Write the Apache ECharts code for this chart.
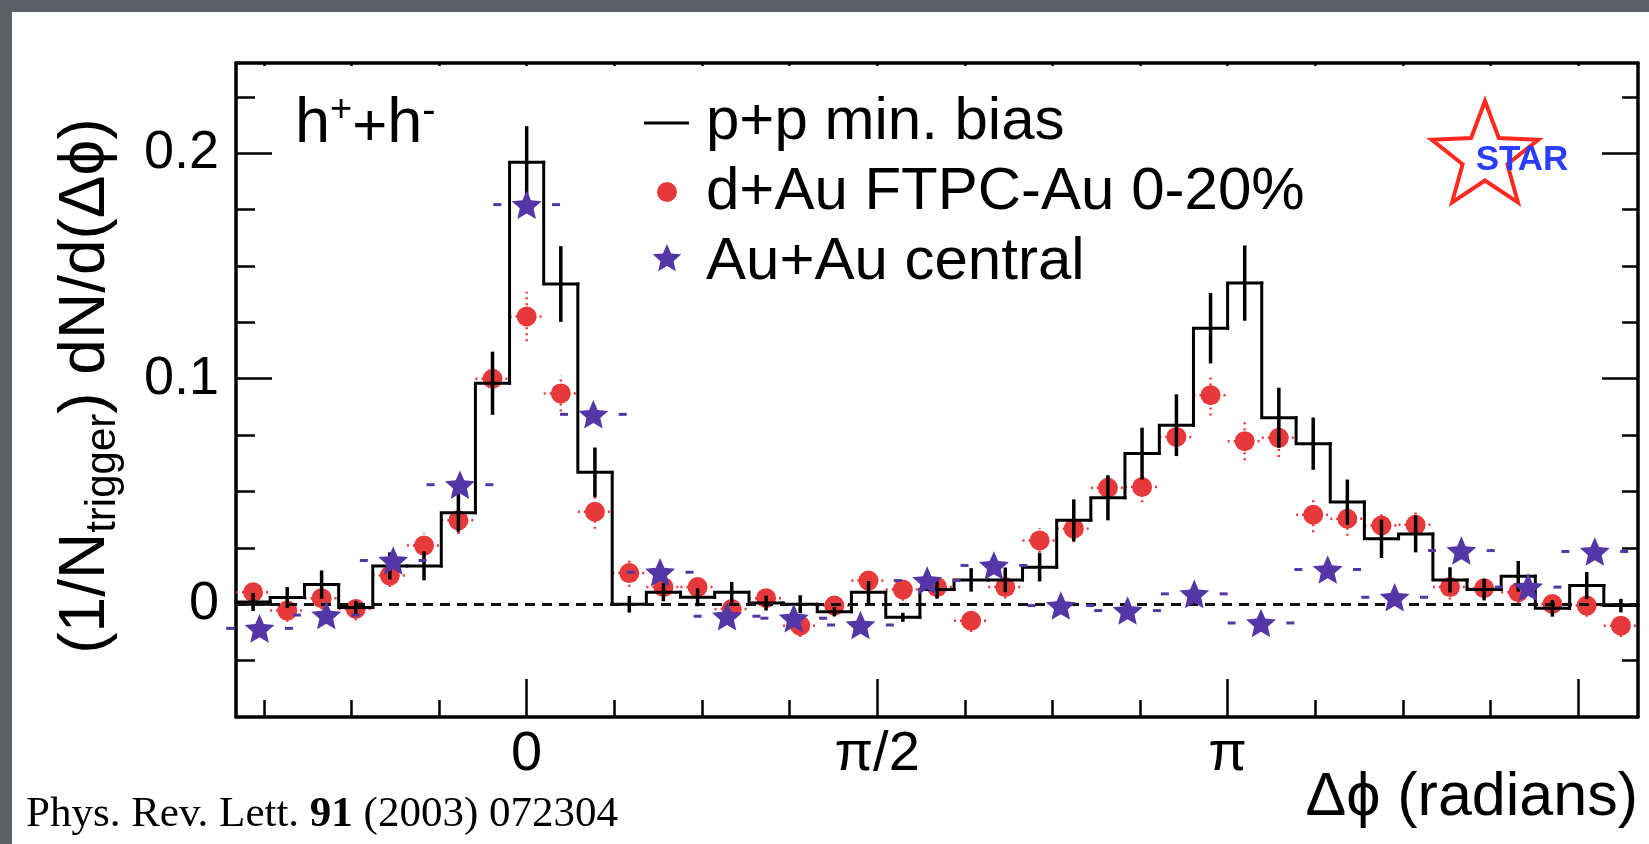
<!DOCTYPE html>
<html>
<head>
<meta charset="utf-8">
<title>Di-hadron azimuthal correlations</title>
<script src="https://cdn.jsdelivr.net/npm/echarts@6.0.0/dist/echarts.min.js"></script>
<style>
  html, body { margin: 0; padding: 0; }
  body { width: 1649px; height: 844px; background: #5c5f65; position: relative; overflow: hidden; }
  #panel { position: absolute; left: 12px; top: 12px; width: 1637px; height: 832px; background: #ffffff; }
  #chart { position: absolute; left: 0; top: 0; width: 1649px; height: 844px; }
</style>
</head>
<body>
<div id="panel"></div>
<div id="chart"></div>
<script>
// Δφ bin centres (rad) shared by the p+p histogram and the d+Au points (41 bins over 2π)
const dPhiBins = [
  -1.226, -1.073, -0.919, -0.766, -0.613, -0.460, -0.306, -0.153,
   0.000,  0.153,  0.306,  0.460,  0.613,  0.766,  0.919,  1.073,
   1.226,  1.379,  1.532,  1.686,  1.839,  1.992,  2.145,  2.299,
   2.452,  2.605,  2.758,  2.912,  3.065,  3.218,  3.371,  3.525,
   3.678,  3.831,  3.984,  4.138,  4.291,  4.444,  4.597,  4.751,  4.904
];
const ppBinWidth = 0.15325;

// p+p minimum bias (histogram) and its statistical errors
const ppMinBias = [
   0.0010,  0.0030,  0.0087, -0.0015,  0.0170,  0.0170,  0.0406,  0.0980,
   0.1960,  0.1420,  0.0585,  0.0000,  0.0053,  0.0031,  0.0053,  0.0005,
   0.0000, -0.0033,  0.0053, -0.0058,  0.0065,  0.0108,  0.0108,  0.0164,
   0.0372,  0.0472,  0.0668,  0.0794,  0.1224,  0.1424,  0.0827,  0.0712,
   0.0453,  0.0290,  0.0312,  0.0108,  0.0065,  0.0124, -0.0018,  0.0083, -0.0006
];
const ppErr = [
  0.0040, 0.0046, 0.0063, 0.0030, 0.0060, 0.0064, 0.0085, 0.0140,
  0.0160, 0.0168, 0.0110, 0.0037, 0.0040, 0.0040, 0.0046, 0.0033,
  0.0040, 0.0020, 0.0050, 0.0020, 0.0040, 0.0052, 0.0055, 0.0063,
  0.0093, 0.0100, 0.0115, 0.0137, 0.0156, 0.0167, 0.0133, 0.0116,
  0.0100, 0.0085, 0.0082, 0.0056, 0.0048, 0.0068, 0.0037, 0.0060, 0.0030
];

// d+Au FTPC-Au 0-20% and its errors
const dAuCentral = [
   0.0053, -0.0028,  0.0027, -0.0021,  0.0127,  0.0260,  0.0372,  0.1000,
   0.1276,  0.0935,  0.0410,  0.0138,  0.0076,  0.0076, -0.0021,  0.0027,
  -0.0095, -0.0006,  0.0105,  0.0065,  0.0076, -0.0073,  0.0076,  0.0283,
   0.0335,  0.0516,  0.0520,  0.0742,  0.0927,  0.0723,  0.0738,  0.0397,
   0.0379,  0.0349,  0.0352,  0.0076,  0.0071,  0.0053,  0.0001, -0.0006, -0.0095
];
const dAuErr = [
  0.0050, 0.0050, 0.0050, 0.0050, 0.0050, 0.0055, 0.0060, 0.0070,
  0.0110, 0.0080, 0.0075, 0.0060, 0.0050, 0.0050, 0.0050, 0.0050,
  0.0050, 0.0050, 0.0050, 0.0050, 0.0050, 0.0050, 0.0050, 0.0055,
  0.0060, 0.0065, 0.0068, 0.0075, 0.0090, 0.0085, 0.0085, 0.0078,
  0.0075, 0.0065, 0.0060, 0.0055, 0.0050, 0.0050, 0.0050, 0.0050, 0.0050
];

// Au+Au central (21 bins over 2π)
const auBins = [
  -1.197, -0.898, -0.598, -0.299, 0.000, 0.299, 0.598, 0.898, 1.197, 1.496, 1.795,
   2.094,  2.394,  2.693,  2.992, 3.291, 3.590, 3.890, 4.189, 4.488, 4.787
];
const auBinWidth = 0.2992;
const auAuCentral = [
  -0.0107, -0.0048, 0.0194, 0.0530, 0.1772, 0.0842, 0.0142, -0.0053, -0.0062, -0.0092, 0.0105,
   0.0172, -0.0006, -0.0028, 0.0046, -0.0083, 0.0154, 0.0031, 0.0238, 0.0076, 0.0234
];

// Tick labels
const xTickValues = [0, Math.PI / 2, Math.PI];
const xTickLabels = ['0', 'π/2', 'π'];
const yTickValues = [0, 0.1, 0.2];
const yTickLabels = ['0', '0.1', '0.2'];

const FONT = "'Liberation Sans', 'DejaVu Sans', sans-serif";
const RED = '#e8393a';
const PURPLE = '#5536a6';

const xMin = dPhiBins[0] - ppBinWidth / 2;
const xMax = dPhiBins[dPhiBins.length - 1] + ppBinWidth / 2;
const yMin = -0.05, yMax = 0.24;

// axis tick positions: majors every π/2, minors every π/8
const xMajor = [], xMinor = [], xAll = [];
for (let k = -8; k <= 16; k++) {
  const v = k * Math.PI / 8;
  if (v < xMin || v > xMax) continue;
  xAll.push(v);
  if (k % 4 === 0) xMajor.push(v); else xMinor.push(v);
}
const yMajor = [0, 0.1, 0.2];
const yMinor = [-0.025, 0.025, 0.05, 0.075, 0.125, 0.15, 0.175, 0.225];

function labelFor(values, labels) {
  return v => {
    const i = values.findIndex(t => Math.abs(t - v) < 1e-9);
    return i >= 0 ? labels[i] : '';
  };
}

// five-pointed star outline (outer radius r, inner radius r * ratio)
function starPoints(cx, cy, r, ratio) {
  const pts = [];
  for (let k = 0; k < 10; k++) {
    const rr = k % 2 === 0 ? r : r * ratio;
    const a = -Math.PI / 2 + k * Math.PI / 5;
    pts.push([cx + rr * Math.cos(a), cy + rr * Math.sin(a)]);
  }
  return pts;
}

// marker star as an SVG path (inner/outer radius 0.46)
const STAR_PATH = 'path://' + starPoints(100, 100, 100, 0.46)
  .map((p, i) => (i ? 'L' : 'M') + p[0].toFixed(2) + ',' + p[1].toFixed(2)).join(' ') + ' Z';

function baseAxis(extra) {
  return Object.assign({
    type: 'value',
    axisLine: { show: true, onZero: false, lineStyle: { color: '#000', width: 3.5 } },
    splitLine: { show: false },
    axisLabel: { show: false },
    axisTick: { show: true, inside: true, lineStyle: { color: '#000', width: 2.5 } }
  }, extra);
}

const xAxes = [
  baseAxis({
    position: 'bottom', min: xMin, max: xMax,
    axisTick: { show: true, inside: true, length: 38, customValues: xMajor, lineStyle: { color: '#000', width: 2.5 } },
    axisLabel: {
      show: true, customValues: xTickValues, formatter: labelFor(xTickValues, xTickLabels),
      fontFamily: FONT, fontSize: 56, color: '#000', margin: 10
    }
  }),
  baseAxis({
    position: 'bottom', min: xMin, max: xMax,
    axisLine: { show: false, onZero: false },
    axisTick: { show: true, inside: true, length: 17, customValues: xMinor, lineStyle: { color: '#000', width: 2.5 } }
  }),
  baseAxis({
    position: 'top', min: xMin, max: xMax,
    axisTick: { show: true, inside: true, length: 3, customValues: xAll, lineStyle: { color: '#000', width: 2.5 } }
  })
];

const yAxes = [
  baseAxis({
    position: 'left', min: yMin, max: yMax,
    axisTick: { show: true, inside: true, length: 36, customValues: yMajor, lineStyle: { color: '#000', width: 2.5 } },
    axisLabel: {
      show: true, customValues: yTickValues, formatter: labelFor(yTickValues, yTickLabels),
      fontFamily: FONT, fontSize: 54, color: '#000', margin: 17
    }
  }),
  baseAxis({
    position: 'left', min: yMin, max: yMax,
    axisLine: { show: false, onZero: false },
    axisTick: { show: true, inside: true, length: 19, customValues: yMinor, lineStyle: { color: '#000', width: 2.5 } }
  }),
  baseAxis({
    position: 'right', min: yMin, max: yMax,
    axisTick: { show: true, inside: true, length: 36, customValues: yMajor, lineStyle: { color: '#000', width: 2.5 } }
  }),
  baseAxis({
    position: 'right', min: yMin, max: yMax,
    axisLine: { show: false, onZero: false },
    axisTick: { show: true, inside: true, length: 16, customValues: yMinor, lineStyle: { color: '#000', width: 2.5 } }
  })
];

const series = [
  // d+Au error bars (dotted)
  {
    type: 'custom', name: 'd+Au errors', z: 2, silent: true,
    data: dPhiBins.map((x, i) => [x, dAuCentral[i], dAuErr[i]]),
    renderItem: (params, api) => {
      const x = api.value(0), y = api.value(1), e = api.value(2);
      const lo = api.coord([x, y - e]), hi = api.coord([x, y + e]);
      const l = api.coord([x - ppBinWidth / 2, y]), r = api.coord([x + ppBinWidth / 2, y]);
      const st = { stroke: RED, lineWidth: 2.5, lineDash: [2, 4] };
      return {
        type: 'group', children: [
          { type: 'line', shape: { x1: lo[0], y1: lo[1], x2: hi[0], y2: hi[1] }, style: st },
          { type: 'line', shape: { x1: l[0], y1: l[1], x2: r[0], y2: r[1] }, style: st }
        ]
      };
    },
    markLine: {
      silent: true, symbol: 'none', label: { show: false },
      lineStyle: { type: [10, 7], color: '#111', width: 3 },
      data: [{ yAxis: 0 }]
    }
  },
  // d+Au FTPC-Au 0-20%
  {
    type: 'scatter', name: 'd+Au FTPC-Au 0-20%', z: 3,
    symbol: 'circle', symbolSize: 20,
    itemStyle: { color: RED, opacity: 1 },
    data: dPhiBins.map((x, i) => [x, dAuCentral[i]])
  },
  // p+p min. bias histogram outline
  {
    type: 'custom', name: 'p+p min. bias', z: 4,
    data: dPhiBins.map((x, i) => [x, ppMinBias[i]]),
    renderItem: (params, api) => {
      const i = params.dataIndex;
      const x = api.value(0), y = api.value(1);
      const a = api.coord([x - ppBinWidth / 2, y]);
      const b = api.coord([x + ppBinWidth / 2, y]);
      const pts = [];
      if (i > 0) pts.push(api.coord([x - ppBinWidth / 2, ppMinBias[i - 1]]));
      pts.push(a, b);
      return {
        type: 'polyline', shape: { points: pts },
        style: { stroke: '#000', lineWidth: 3, fill: null, lineCap: 'square', lineJoin: 'miter' }
      };
    }
  },
  // p+p error bars
  {
    type: 'custom', name: 'p+p errors', z: 5, silent: true,
    data: dPhiBins.map((x, i) => [x, ppMinBias[i], ppErr[i]]),
    renderItem: (params, api) => {
      const x = api.value(0), y = api.value(1), e = api.value(2);
      const lo = api.coord([x, y - e]), hi = api.coord([x, y + e]);
      return {
        type: 'line', shape: { x1: lo[0], y1: lo[1], x2: hi[0], y2: hi[1] },
        style: { stroke: '#000', lineWidth: 3.5 }
      };
    }
  },
  // Au+Au bin-width markers (dashed ends)
  {
    type: 'custom', name: 'Au+Au bins', z: 6, silent: true,
    data: auBins.map((x, i) => [x, auAuCentral[i]]),
    renderItem: (params, api) => {
      const x = api.value(0), y = api.value(1);
      const outer = auBinWidth / 2, inner = auBinWidth * 0.38;
      const a1 = api.coord([x - outer, y]), a2 = api.coord([x - inner, y]);
      const b1 = api.coord([x + inner, y]), b2 = api.coord([x + outer, y]);
      const st = { stroke: PURPLE, lineWidth: 3 };
      return {
        type: 'group', children: [
          { type: 'line', shape: { x1: a1[0], y1: a1[1], x2: a2[0], y2: a2[1] }, style: st },
          { type: 'line', shape: { x1: b1[0], y1: b1[1], x2: b2[0], y2: b2[1] }, style: st }
        ]
      };
    }
  },
  // Au+Au central
  {
    type: 'scatter', name: 'Au+Au central', z: 7,
    symbol: STAR_PATH, symbolKeepAspect: true, symbolSize: 30,
    itemStyle: { color: PURPLE, opacity: 1 },
    data: auBins.map((x, i) => [x, auAuCentral[i]])
  }
];

const textStyle = (o) => Object.assign({ fontFamily: FONT, fill: '#000' }, o);

const graphic = [
  // y axis title
  {
    type: 'text', x: 86, y: 386, rotation: Math.PI / 2,
    style: textStyle({
      text: '(1/N{sub|trigger}) dN/d(Δϕ)', fontSize: 64, lineHeight: 76,
      align: 'center', verticalAlign: 'middle',
      rich: { sub: { fontFamily: FONT, fontSize: 42, lineHeight: 42, verticalAlign: 'bottom', fill: '#000' } }
    })
  },
  // x axis title
  {
    type: 'text', x: 1638, y: 798,
    style: textStyle({ text: 'Δϕ (radians)', fontSize: 61, align: 'right', verticalAlign: 'middle' })
  },
  // particle species
  {
    type: 'text', x: 295, y: 125,
    style: textStyle({
      text: '{h|h}{sp|+}{pl|+}{h|h}{sm|-}', align: 'left', verticalAlign: 'middle',
      rich: {
        h: { fontFamily: FONT, fontSize: 63, lineHeight: 66, verticalAlign: 'middle', fill: '#000' },
        sp: { fontFamily: FONT, fontSize: 38, lineHeight: 50, verticalAlign: 'top', fill: '#000' },
        pl: { fontFamily: FONT, fontSize: 60, lineHeight: 46, verticalAlign: 'bottom', fill: '#000' },
        sm: { fontFamily: FONT, fontSize: 40, lineHeight: 12, verticalAlign: 'top', fill: '#000' }
      }
    })
  },
  // legend
  { type: 'line', shape: { x1: 644, y1: 123, x2: 689, y2: 123 }, style: { stroke: '#000', lineWidth: 3 } },
  { type: 'circle', shape: { cx: 667, cy: 192, r: 10 }, style: { fill: RED } },
  { type: 'polygon', shape: { points: starPoints(667, 259, 15, 0.46) }, style: { fill: PURPLE } },
  { type: 'text', x: 706, y: 122, style: textStyle({ text: 'p+p min. bias', fontSize: 60, verticalAlign: 'middle' }) },
  { type: 'text', x: 706, y: 192, style: textStyle({ text: 'd+Au FTPC-Au 0-20%', fontSize: 60, verticalAlign: 'middle' }) },
  { type: 'text', x: 706, y: 262, style: textStyle({ text: 'Au+Au central', fontSize: 60, verticalAlign: 'middle' }) },
  // STAR logo
  { type: 'polygon', shape: { points: starPoints(1485, 157, 56, 0.42) }, style: { fill: 'none', stroke: '#ff2a1f', lineWidth: 4 } },
  {
    type: 'text', x: 1522, y: 160,
    style: { text: 'STAR', fontFamily: 'Liberation Sans', fontWeight: 'bold', fontSize: 35, fill: '#2a3cff', align: 'center', verticalAlign: 'middle' }
  },
  // reference
  {
    type: 'text', x: 26, y: 815,
    style: {
      text: 'Phys. Rev. Lett. {b|91} (2003) 072304', fontFamily: 'Liberation Serif', fontSize: 43, fill: '#000',
      align: 'left', verticalAlign: 'middle',
      rich: { b: { fontFamily: 'Liberation Serif', fontWeight: 'bold', fontSize: 43, fill: '#000' } }
    }
  }
];

const chart = echarts.init(document.getElementById('chart'), null, { renderer: 'canvas' });
chart.setOption({
  animation: false,
  backgroundColor: 'transparent',
  grid: { left: 236, right: 11, top: 63, bottom: 127 },
  xAxis: xAxes,
  yAxis: yAxes,
  series: series,
  graphic: graphic
});
</script>
</body>
</html>
